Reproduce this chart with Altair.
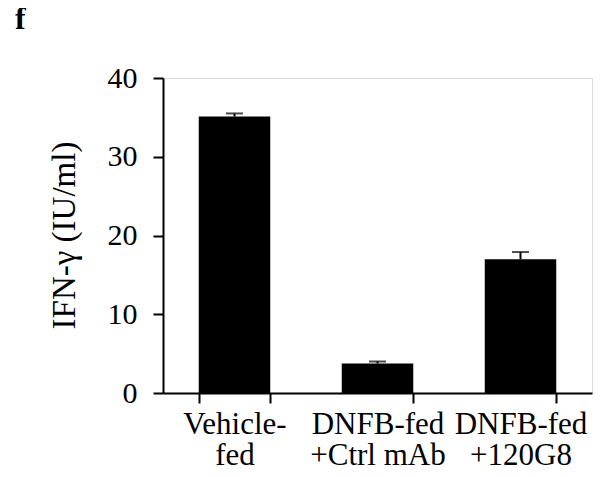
import altair as alt
import pandas as pd

groups = ["Vehicle-|fed", "DNFB-fed|+Ctrl mAb", "DNFB-fed|+120G8"]
means = [35.1, 3.75, 17.0]
errs = [0.4, 0.25, 0.9]
y_ticks = [0, 10, 20, 30, 40]
panel_label = ["f"]

df = pd.DataFrame({"group": groups, "mean": means, "err": errs})
df["hi"] = df["mean"] + df["err"]

FONT = "Liberation Serif"

x_enc = alt.X(
    "group:N",
    sort=groups,
    scale=alt.Scale(paddingInner=0.5, paddingOuter=0.25),
    axis=alt.Axis(
        title=None,
        labelAngle=0,
        labelExpr="split(datum.label, '|')",
        labelFont=FONT,
        labelFontSize=31,
        labelLineHeight=31,
        labelColor="black",
        labelPadding=6,
        labelBaseline="top",
        tickBand="extent",
        tickSize=10,
        tickWidth=2,
        tickColor="black",
        domainWidth=2,
        domainColor="black",
    ),
)

y_scale = alt.Scale(domain=[0, 40], nice=False)

bars = alt.Chart(df).mark_bar(color="black").encode(
    x=x_enc,
    y=alt.Y(
        "mean:Q",
        scale=y_scale,
        axis=alt.Axis(
            values=y_ticks,
            grid=False,
            title="IFN-γ (IU/ml)",
            titleFont=FONT,
            titleFontSize=33,
            titleFontWeight="normal",
            titleColor="black",
            titleAngle=-90,
            titleBaseline="alphabetic",
            titleAlign="center",
            titleX=-89,
            titleY=157,
            labelFont=FONT,
            labelFontSize=30,
            labelColor="black",
            labelPadding=16,
            tickSize=10,
            tickWidth=2,
            tickColor="black",
            domainWidth=2,
            domainColor="black",
        ),
    ),
)

rules = alt.Chart(df).mark_rule(color="black", strokeWidth=2).encode(
    x=alt.X("group:N", sort=groups),
    y=alt.Y("mean:Q", scale=y_scale),
    y2="hi:Q",
)

caps = alt.Chart(df).mark_tick(color="black", thickness=2, size=17).encode(
    x=alt.X("group:N", sort=groups),
    y=alt.Y("hi:Q", scale=y_scale),
)

label = alt.Chart(pd.DataFrame({"t": panel_label})).mark_text(
    font=FONT,
    fontSize=32,
    fontWeight="bold",
    color="black",
    align="left",
    baseline="alphabetic",
).encode(text="t:N", x=alt.value(-148), y=alt.value(-49))

chart = (
    alt.layer(bars, rules, caps, label)
    .properties(
        width=429,
        height=315,
        autosize=alt.AutoSizeParams(type="none"),
        padding={"left": 155, "top": 70, "right": 10, "bottom": 76},
    )
    .configure_view(stroke=None)
    .configure(background="white")
)

chart.save("out.html", embed_options={"renderer": "svg", "actions": False})
